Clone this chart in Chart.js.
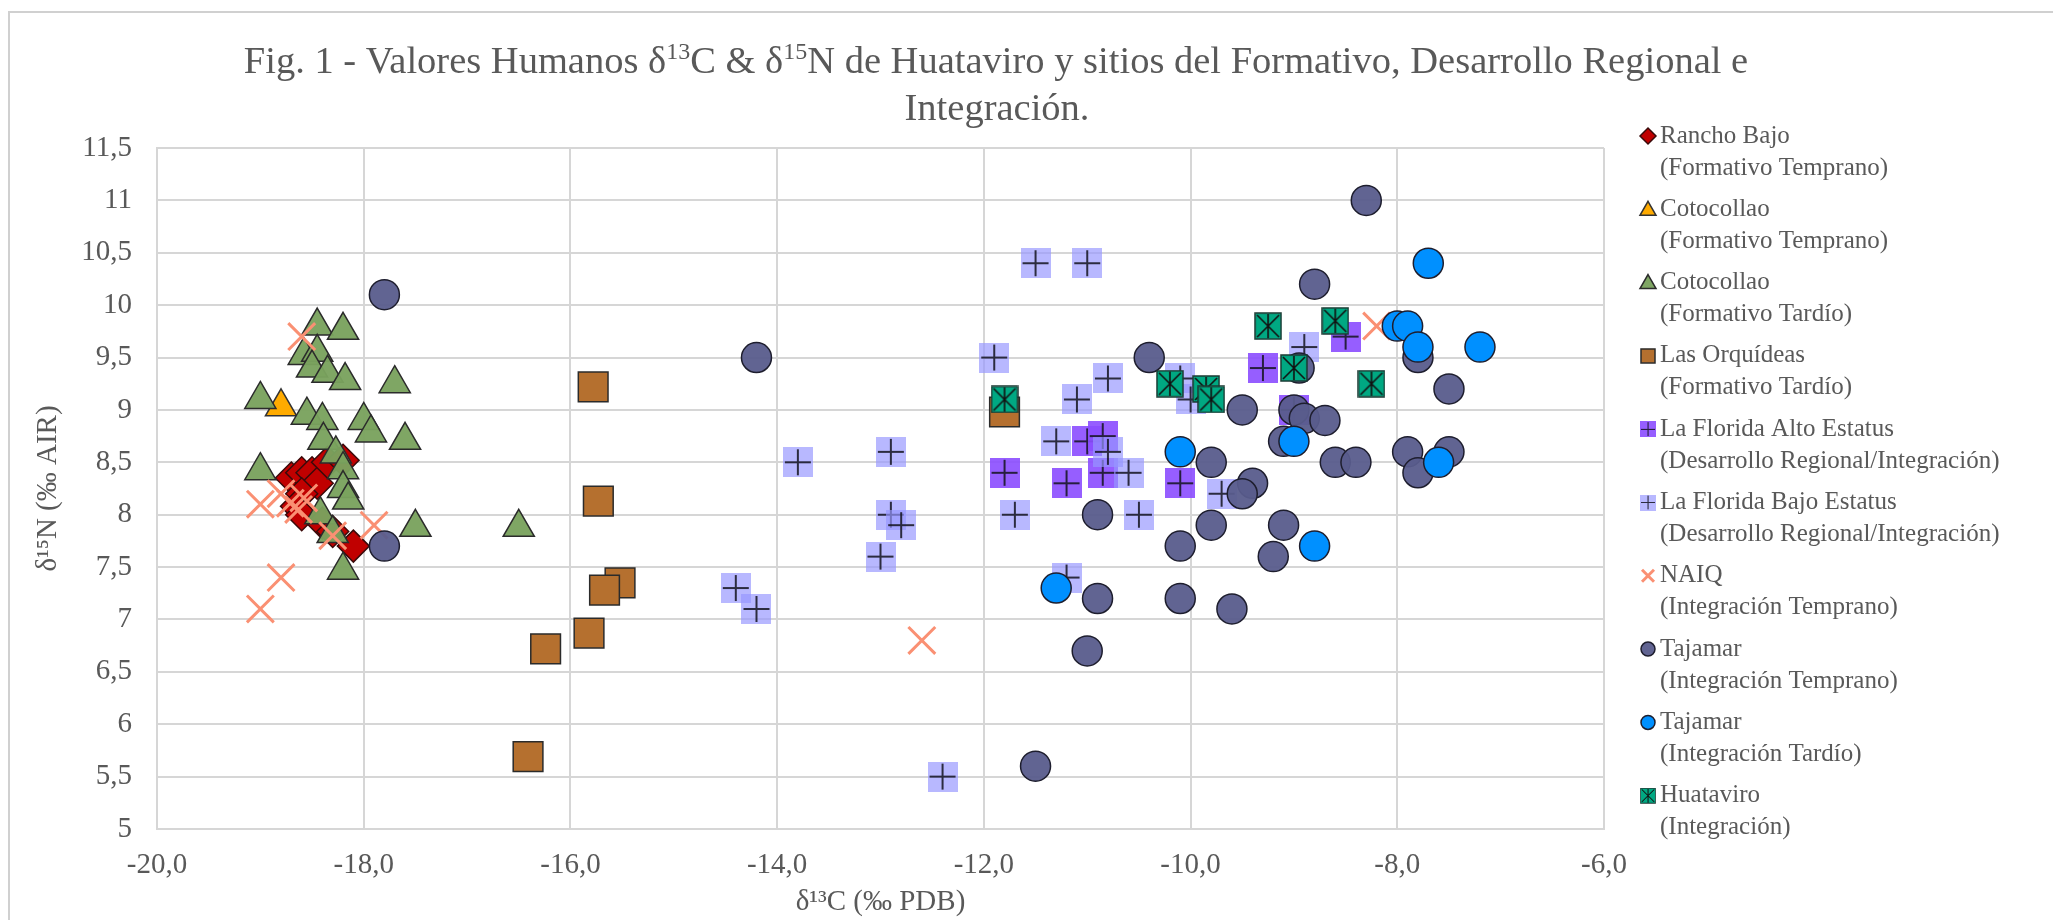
<!DOCTYPE html>
<html>
<head>
<meta charset="utf-8">
<title>Fig. 1 - Valores Humanos δ13C & δ15N</title>
<style>
  body { margin: 0; background: #fff; }
  #wrap { width: 2053px; height: 920px; }
</style>
</head>
<body>
<div id="wrap"><canvas id="isoChart" width="2053" height="920"></canvas></div>

<script src="https://cdn.jsdelivr.net/npm/chart.js"></script>
<script>
  // Valores: [δ13C, δ15N]
  const ranchoBajo = [[-18.7, 8.35], [-18.6, 8.4], [-18.5, 8.4], [-18.45, 8.3], [-18.35, 8.5], [-18.2, 8.52],
    [-18.6, 8.2], [-18.65, 8.08], [-18.6, 8.0], [-18.4, 7.92], [-18.3, 7.84], [-18.1, 7.7]];
  const cotocollaoTemprano = [[-18.8, 9.03]];
  const cotocollaoTardio = [[-18.45, 9.8], [-18.2, 9.76], [-18.58, 9.52], [-18.45, 9.55], [-18.5, 9.4],
    [-18.35, 9.35], [-18.18, 9.28], [-17.7, 9.25], [-19.0, 9.1], [-18.55, 8.95], [-18.4, 8.9], [-18.0, 8.9],
    [-17.93, 8.78], [-17.6, 8.71], [-18.39, 8.71], [-18.27, 8.58], [-19.0, 8.42], [-18.2, 8.43], [-18.2, 8.25],
    [-18.15, 8.14], [-18.42, 8.0], [-18.3, 7.82], [-17.5, 7.88], [-16.5, 7.88], [-18.2, 7.47]];
  const lasOrquideas = [[-15.78, 9.22], [-15.73, 8.13], [-15.52, 7.35], [-15.67, 7.28], [-15.82, 6.87],
    [-16.24, 6.72], [-16.41, 5.69], [-11.8, 8.98]];
  const floridaAlto = [[-8.5, 9.7], [-9.3, 9.4], [-9.0, 9.0], [-10.1, 8.3], [-11.8, 8.4], [-11.2, 8.3],
    [-11.0, 8.7], [-10.85, 8.75], [-10.85, 8.4]];
  const floridaBajo = [[-11.5, 10.4], [-11.0, 10.4], [-11.9, 9.5], [-10.8, 9.3], [-11.1, 9.1], [-10.1, 9.3],
    [-10.0, 9.1], [-8.9, 9.6], [-9.7, 8.2], [-13.8, 8.5], [-12.9, 8.6], [-11.3, 8.7], [-10.8, 8.6], [-10.6, 8.4],
    [-12.9, 8.0], [-12.8, 7.9], [-11.7, 8.0], [-10.5, 8.0], [-13.0, 7.6], [-11.2, 7.4], [-14.4, 7.3],
    [-14.2, 7.1], [-12.4, 5.5]];
  const naiq = [[-18.6, 9.7], [-19.0, 8.1], [-18.8, 8.2], [-18.71, 8.11], [-18.63, 8.05], [-18.58, 8.16],
    [-18.3, 7.8], [-17.9, 7.9], [-18.8, 7.4], [-19.0, 7.1], [-12.6, 6.8], [-8.2, 9.8]];
  const tajamarTemprano = [[-17.8, 10.1], [-17.8, 7.7], [-14.2, 9.5], [-10.4, 9.5], [-9.5, 9.0], [-10.9, 8.0],
    [-9.8, 8.5], [-9.4, 8.3], [-9.5, 8.2], [-9.8, 7.9], [-10.1, 7.7], [-9.1, 7.9], [-9.2, 7.6], [-10.9, 7.2],
    [-10.1, 7.2], [-9.6, 7.1], [-11.0, 6.7], [-11.5, 5.6], [-8.3, 11.0], [-8.8, 10.2], [-7.8, 9.5], [-7.5, 9.2],
    [-8.95, 9.4], [-9.0, 9.0], [-8.9, 8.92], [-8.7, 8.9], [-9.1, 8.7], [-8.6, 8.5], [-8.4, 8.5], [-7.9, 8.6],
    [-7.5, 8.6], [-7.8, 8.4]];
  const tajamarTardio = [[-7.7, 10.4], [-8.0, 9.8], [-7.9, 9.8], [-7.8, 9.6], [-7.2, 9.6], [-9.0, 8.7],
    [-10.1, 8.6], [-7.6, 8.5], [-8.8, 7.7], [-11.3, 7.3]];
  const huataviro = [[-9.25, 9.8], [-8.6, 9.85], [-9.0, 9.4], [-10.2, 9.25], [-9.85, 9.2], [-9.8, 9.1],
    [-8.25, 9.25], [-11.8, 9.1]];

  const seriesNames = ['Rancho Bajo', 'Cotocollao', 'Cotocollao', 'Las Orquídeas', 'La Florida Alto Estatus',
    'La Florida Bajo Estatus', 'NAIQ', 'Tajamar', 'Tajamar', 'Huataviro'];
  const seriesPeriods = ['(Formativo Temprano)', '(Formativo Temprano)', '(Formativo Tardío)', '(Formativo Tardío)',
    '(Desarrollo Regional/Integración)', '(Desarrollo Regional/Integración)', '(Integración Temprano)',
    '(Integración Temprano)', '(Integración Tardío)', '(Integración)'];
  const seriesData = [ranchoBajo, cotocollaoTemprano, cotocollaoTardio, lasOrquideas, floridaAlto,
    floridaBajo, naiq, tajamarTemprano, tajamarTardio, huataviro];

  const xTicks = [-20, -18, -16, -14, -12, -10, -8, -6];
  const yTicks = [5, 5.5, 6, 6.5, 7, 7.5, 8, 8.5, 9, 9.5, 10, 10.5, 11, 11.5];

  const textGray = '#595959';
  const gridGray = '#d6d6d6';
  const serif = "'Liberation Serif', 'DejaVu Serif', serif";

  // marcadores cuadrados con cruz / asterisco (como en Excel)
  function plusSquare(size, fill) {
    const c = document.createElement('canvas');
    c.width = c.height = size;
    const g = c.getContext('2d');
    g.fillStyle = fill;
    g.fillRect(0, 0, size, size);
    g.strokeStyle = 'rgba(20,20,30,0.85)';
    g.lineWidth = 2;
    g.beginPath();
    g.moveTo(size / 2, 2); g.lineTo(size / 2, size - 2);
    g.moveTo(2, size / 2); g.lineTo(size - 2, size / 2);
    g.stroke();
    return c;
  }
  function starSquare(size, fill) {
    const c = document.createElement('canvas');
    c.width = c.height = size;
    const g = c.getContext('2d');
    g.fillStyle = fill;
    g.fillRect(1, 1, size - 2, size - 2);
    g.strokeStyle = '#1b3a33';
    g.lineWidth = 1.5;
    g.strokeRect(1, 1, size - 2, size - 2);
    g.strokeStyle = '#111';
    g.lineWidth = 1.6;
    g.beginPath();
    g.moveTo(3, 3); g.lineTo(size - 3, size - 3);
    g.moveTo(size - 3, 3); g.lineTo(3, size - 3);
    g.moveTo(size / 2, 2); g.lineTo(size / 2, size - 2);
    g.stroke();
    return c;
  }

  const altoMark = plusSquare(30, 'rgba(139, 77, 255, 0.9)');
  const bajoMark = plusSquare(30, 'rgba(150, 150, 255, 0.68)');
  const huataMark = starSquare(28, '#00a882');

  const styles = [
    { bg: '#c00000', border: '#3a0a0a', shape: 'rectRot', r: 16, bw: 1.5 },
    { bg: '#ffab00', border: '#333', shape: 'triangle', r: 18, bw: 1.5 },
    { bg: 'rgba(122,162,94,0.96)', border: '#2b2b2b', shape: 'triangle', r: 18, bw: 1.5 },
    { bg: '#b5702f', border: '#2b2b2b', shape: 'rect', r: 21, bw: 1.5 },
    { shape: altoMark, r: 15 },
    { shape: bajoMark, r: 15 },
    { bg: 'rgba(0,0,0,0)', border: '#fa9073', shape: 'crossRot', r: 19, bw: 3 },
    { bg: 'rgba(88,92,140,0.95)', border: '#1e1e2e', shape: 'circle', r: 15, bw: 1.5 },
    { bg: '#0090ff', border: '#1e1e2e', shape: 'circle', r: 15, bw: 1.5 },
    { shape: huataMark, r: 14 }
  ];

  const datasets = seriesData.map((pts, i) => ({
    label: seriesNames[i] + ' ' + seriesPeriods[i],
    data: pts.map(p => ({ x: p[0], y: p[1] })),
    pointStyle: styles[i].shape,
    pointRadius: styles[i].r,
    backgroundColor: styles[i].bg || 'transparent',
    borderColor: styles[i].border || 'transparent',
    borderWidth: styles[i].bw || 0,
    order: seriesData.length - i // la última serie queda encima
  }));

  // texto con superíndices
  function richText(ctx, parts, cx, y, size) {
    const sup = Math.round(size * 0.62);
    let total = 0;
    parts.forEach(p => {
      ctx.font = (p.sup ? sup : size) + 'px ' + serif;
      total += ctx.measureText(p.t).width;
    });
    let x = cx - total / 2;
    parts.forEach(p => {
      ctx.font = (p.sup ? sup : size) + 'px ' + serif;
      ctx.fillText(p.t, x, p.sup ? y - size * 0.36 : y);
      x += ctx.measureText(p.t).width;
    });
  }

  function legendMarker(ctx, st, x, y) {
    const s = 8;
    ctx.save();
    if (typeof st.shape !== 'string') {
      ctx.drawImage(st.shape, x - s, y - s, 2 * s, 2 * s);
      ctx.restore();
      return;
    }
    ctx.fillStyle = st.bg;
    ctx.strokeStyle = st.border;
    ctx.lineWidth = 1.5;
    ctx.beginPath();
    if (st.shape === 'rectRot') {
      ctx.moveTo(x - s, y); ctx.lineTo(x, y - s); ctx.lineTo(x + s, y); ctx.lineTo(x, y + s); ctx.closePath();
    } else if (st.shape === 'triangle') {
      ctx.moveTo(x, y - s); ctx.lineTo(x + s, y + s * 0.75); ctx.lineTo(x - s, y + s * 0.75); ctx.closePath();
    } else if (st.shape === 'rect') {
      ctx.rect(x - s + 1, y - s + 1, 2 * s - 2, 2 * s - 2);
    } else if (st.shape === 'circle') {
      ctx.arc(x, y, s - 1, 0, Math.PI * 2);
    } else if (st.shape === 'crossRot') {
      ctx.lineWidth = 3;
      ctx.moveTo(x - s + 2, y - s + 2); ctx.lineTo(x + s - 2, y + s - 2);
      ctx.moveTo(x + s - 2, y - s + 2); ctx.lineTo(x - s + 2, y + s - 2);
      ctx.stroke();
      ctx.restore();
      return;
    }
    ctx.fill();
    ctx.stroke();
    ctx.restore();
  }

  const decor = {
    id: 'decor',
    beforeDraw(chart) {
      const ctx = chart.ctx;
      ctx.save();
      ctx.fillStyle = '#fff';
      ctx.fillRect(0, 0, chart.width, chart.height);
      // marco del área del gráfico
      ctx.strokeStyle = '#d0d0d0';
      ctx.lineWidth = 2;
      ctx.beginPath();
      ctx.moveTo(9, chart.height);
      ctx.lineTo(9, 12);
      ctx.lineTo(chart.width, 12);
      ctx.stroke();
      ctx.restore();
    },
    afterDraw(chart) {
      const ctx = chart.ctx;
      ctx.save();
      ctx.fillStyle = textGray;
      ctx.textBaseline = 'alphabetic';
      ctx.textAlign = 'left';
      richText(ctx, [
        { t: 'Fig. 1 - Valores Humanos δ' }, { t: '13', sup: true }, { t: 'C & δ' }, { t: '15', sup: true },
        { t: 'N de Huataviro y sitios del Formativo, Desarrollo Regional e' }
      ], 996, 73, 38.5);
      richText(ctx, [{ t: 'Integración.' }], 997, 120, 38.5);

      // leyenda
      ctx.font = '25px ' + serif;
      ctx.textBaseline = 'middle';
      chart.data.datasets.forEach((ds, i) => {
        const y = 136 + i * 73.3;
        legendMarker(ctx, styles[i], 1648, y);
        ctx.fillStyle = textGray;
        ctx.fillText(seriesNames[i], 1660, y);
        ctx.fillText(seriesPeriods[i], 1660, y + 32);
      });
      ctx.restore();
    }
  };

  new Chart(document.getElementById('isoChart'), {
    type: 'scatter',
    data: { datasets },
    options: {
      responsive: false,
      animation: false,
      layout: { padding: { top: 148, right: 449, left: 0, bottom: 0 } },
      plugins: {
        legend: { display: false },
        title: { display: false },
        tooltip: { enabled: false }
      },
      scales: {
        x: {
          type: 'linear',
          min: xTicks[0],
          max: xTicks[xTicks.length - 1],
          afterBuildTicks: s => { s.ticks = xTicks.map(v => ({ value: v })); },
          afterFit: s => { s.height = 91; },
          grid: { color: gridGray, lineWidth: 2, drawTicks: false },
          border: { color: gridGray, width: 2 },
          ticks: {
            padding: 19,
            color: textGray,
            font: { family: serif, size: 29 },
            callback: v => Number(v).toFixed(1).replace('.', ',')
          },
          title: {
            display: true,
            text: 'δ¹³C (‰ PDB)',
            color: textGray,
            font: { family: serif, size: 29 },
            padding: 0
          }
        },
        y: {
          type: 'linear',
          min: yTicks[0],
          max: yTicks[yTicks.length - 1],
          afterBuildTicks: s => { s.ticks = yTicks.map(v => ({ value: v })); },
          afterFit: s => { s.width = 157; },
          grid: { color: gridGray, lineWidth: 2, drawTicks: false },
          border: { color: gridGray, width: 2 },
          ticks: {
            padding: 25,
            color: textGray,
            font: { family: serif, size: 29 },
            callback: v => String(v).replace('.', ',')
          },
          title: {
            display: true,
            text: 'δ¹⁵N (‰ AIR)',
            color: textGray,
            font: { family: serif, size: 29 },
            padding: { top: 31, bottom: 0 }
          }
        }
      }
    },
    plugins: [decor]
  });
</script>
</body>
</html>
